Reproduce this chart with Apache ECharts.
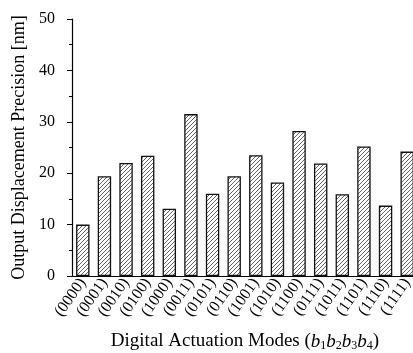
<!DOCTYPE html>
<html><head><meta charset="utf-8">
<script src="https://cdn.jsdelivr.net/npm/echarts@6/dist/echarts.min.js"></script>
<style>html,body{margin:0;padding:0;background:#fff}#c{width:413px;height:353px}</style>
</head><body><div id="c"></div>
<script>
const categories = ['(0000)','(0001)','(0010)','(0100)','(1000)','(0011)','(0101)','(0110)','(1001)','(1010)','(1100)','(0111)','(1011)','(1101)','(1110)','(1111)'];
const precision = [10.0, 19.4, 22.0, 23.4, 13.1, 31.5, 16.0, 19.4, 23.5, 18.2, 28.2, 21.9, 15.9, 25.2, 13.7, 24.2];
const yTicks = [0, 10, 20, 30, 40, 50];

function hatch() {
  const c = document.createElement('canvas');
  c.width = 4; c.height = 4;
  const g = c.getContext('2d');
  g.fillStyle = '#fff'; g.fillRect(0,0,4,4);
  g.strokeStyle = '#555'; g.lineWidth = 0.9;
  g.beginPath();
  g.moveTo(-1,5); g.lineTo(5,-1);
  g.moveTo(-1,1); g.lineTo(1,-1);
  g.moveTo(3,5); g.lineTo(5,3);
  g.stroke();
  return c;
}
const font = 'Liberation Serif, Times New Roman, serif';
const chart = echarts.init(document.getElementById('c'), null, {renderer:'canvas'});
chart.setOption({
  animation: false,
  grid: {left: 72, top: 19, bottom: 77, right: -5, containLabel: false, outerBoundsMode: 'none'},
  xAxis: {
    type: 'category', data: categories,
    name: '{n|Digital Actuation Modes (}{i|b}{s|1}{i|b}{s|2}{i|b}{s|3}{i|b}{s|4}{n|)}',
    nameLocation: 'middle', nameGap: 55,
    nameTextStyle: {fontFamily: font, fontSize: 19, color: '#000',
      rich: {n: {fontFamily: font, fontSize: 19, color:'#000'},
             i: {fontFamily: font, fontSize: 19, fontStyle: 'italic', color:'#000'},
             s: {fontFamily: font, fontSize: 12, color:'#000', verticalAlign: 'bottom', padding: [9,0,0,0]}}},
    axisLine: {lineStyle: {color: '#000', width: 1.2}},
    axisTick: {alignWithLabel: true, length: 4, lineStyle: {color:'#000'}},
    axisLabel: {rotate: 55, fontFamily: font, fontSize: 16, color: '#000', margin: 4, interval: 0}
  },
  yAxis: {
    type: 'value', min: yTicks[0], max: yTicks[yTicks.length-1], interval: 10,
    name: 'Output Displacement Precision [nm]',
    nameLocation: 'middle', nameGap: 37,
    nameTextStyle: {fontFamily: font, fontSize: 18, color: '#000'},
    axisLine: {show: true, lineStyle: {color: '#000', width: 1.2}},
    axisTick: {show: true, length: 5, lineStyle: {color:'#000'}},
    minorTick: {show: true, splitNumber: 2, length: 3, lineStyle: {color:'#000'}},
    splitLine: {show: false},
    axisLabel: {fontFamily: font, fontSize: 16, color: '#000', margin: 17}
  },
  series: [{
    type: 'bar', data: precision, barWidth: '62%',
    itemStyle: {color: {image: hatch(), repeat: 'repeat'}, borderColor: '#111', borderWidth: 1.3}
  }]
});
</script></body></html>
